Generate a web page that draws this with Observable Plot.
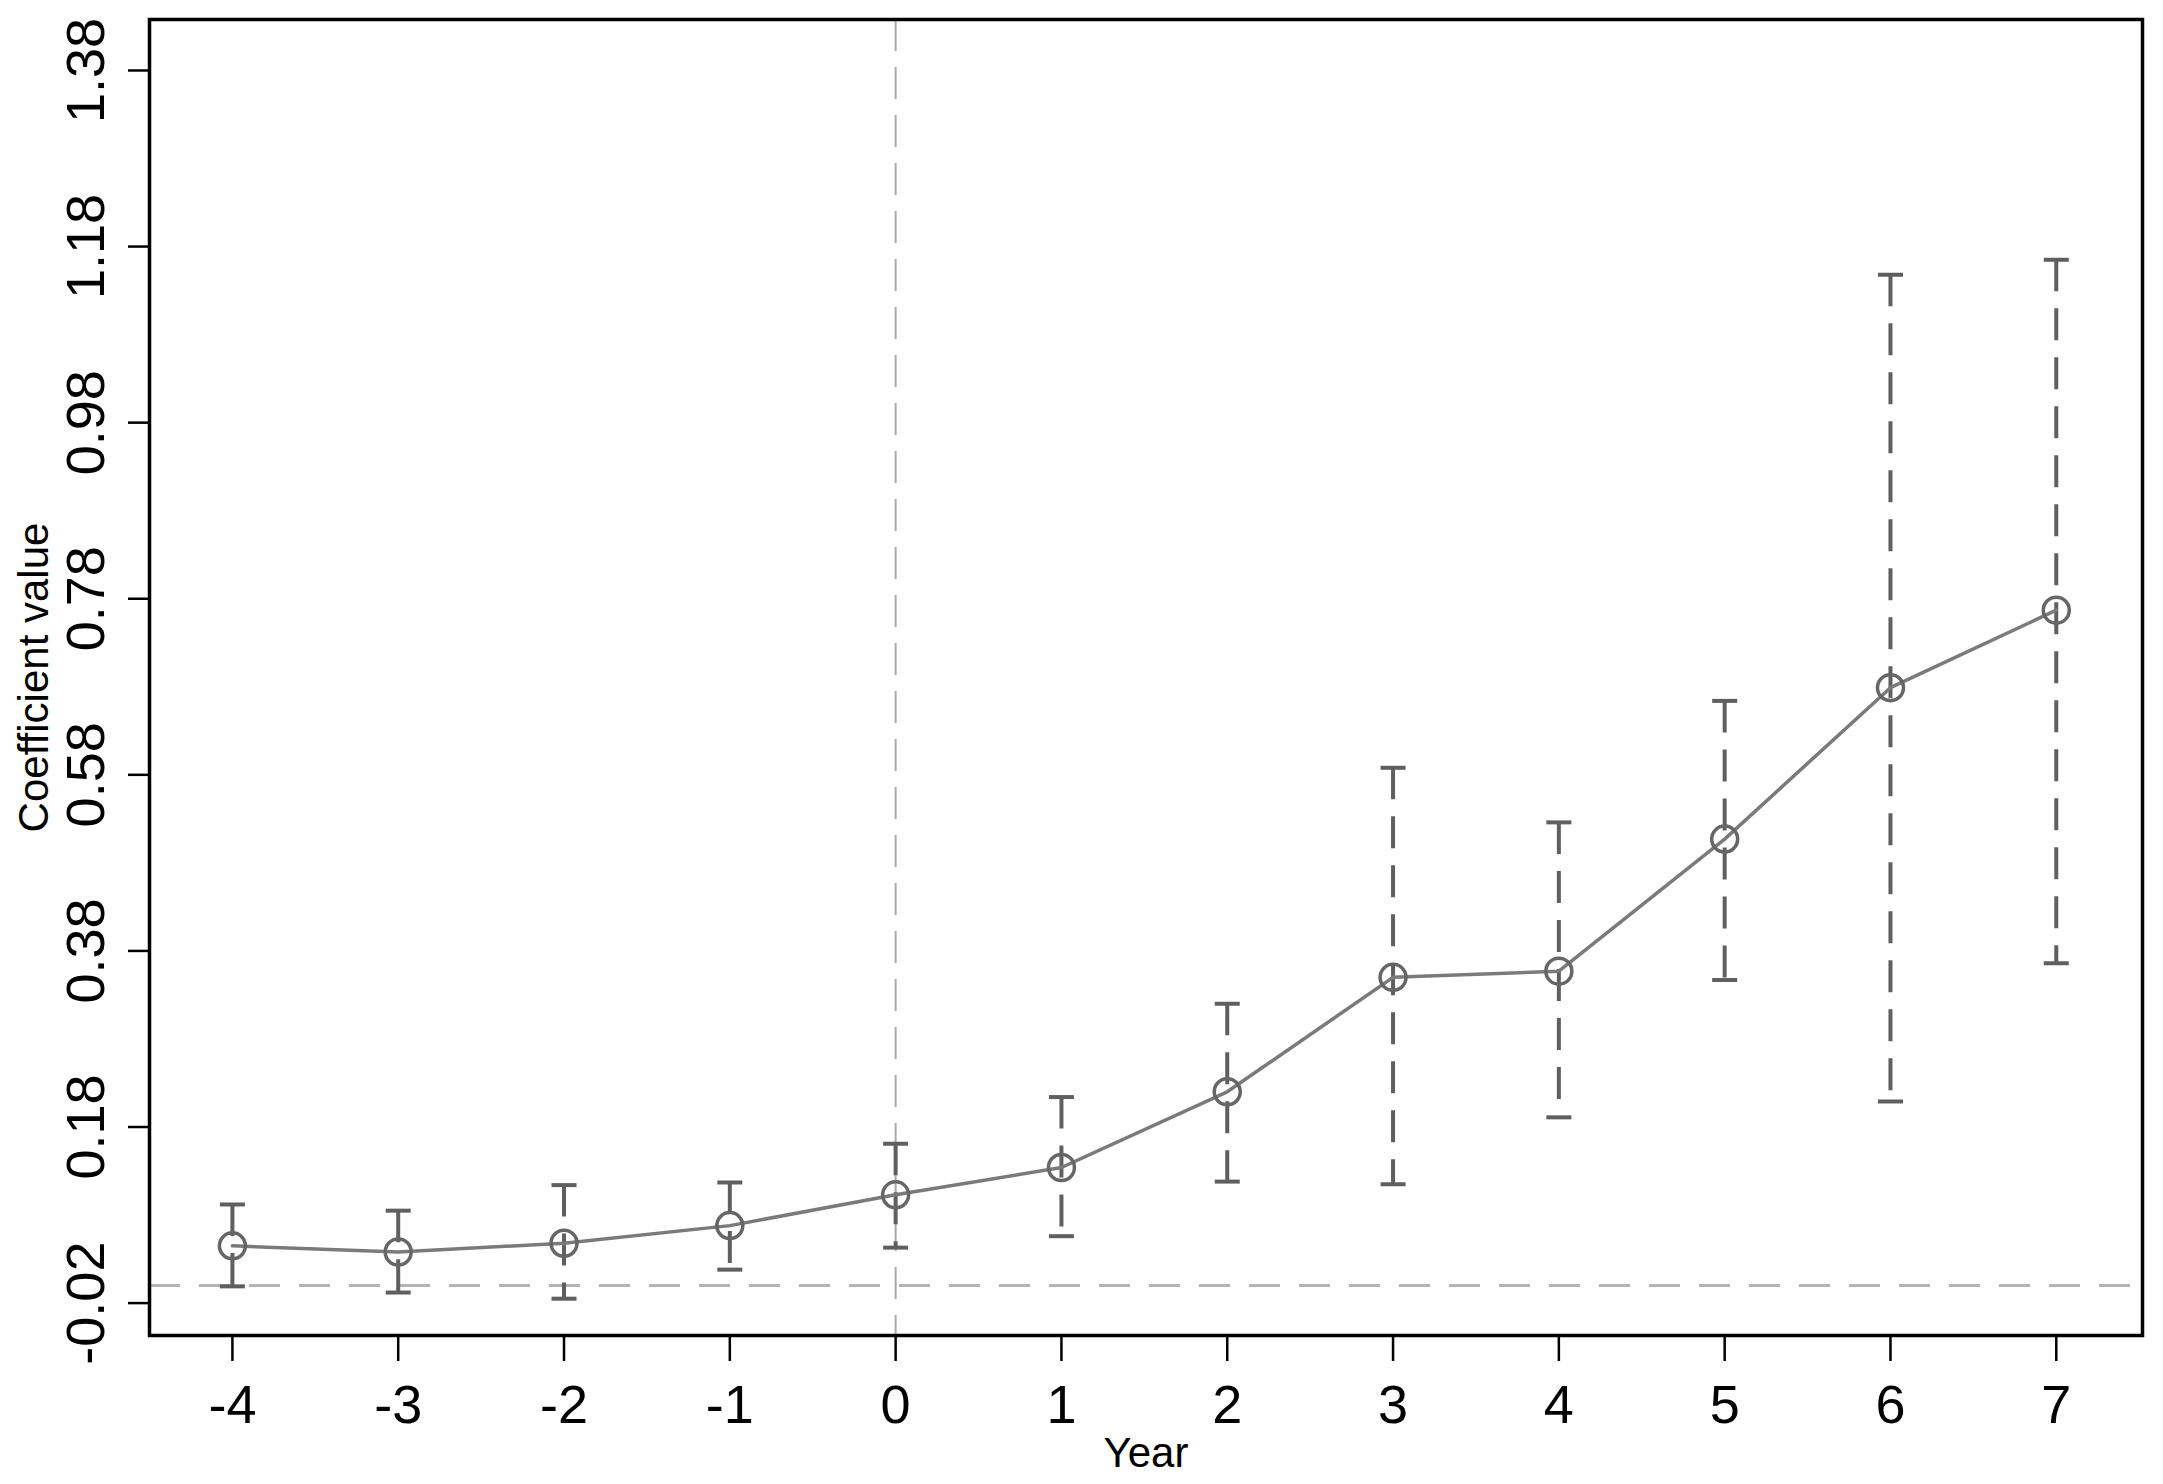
<!DOCTYPE html>
<html>
<head>
<meta charset="utf-8">
<script src="https://cdn.jsdelivr.net/npm/d3@7"></script>
<script src="https://cdn.jsdelivr.net/npm/@observablehq/plot@0.6"></script>
<style>
  html, body { margin: 0; padding: 0; background: #fff; }
  #chart svg { display: block; }
</style>
</head>
<body>
<div id="chart"></div>
<script>
// ---- data ----
const years  = [-4, -3, -2, -1, 0, 1, 2, 3, 4, 5, 6, 7];
const coef   = [0.045, 0.038, 0.048, 0.068, 0.103, 0.134, 0.220, 0.350, 0.357, 0.507, 0.679, 0.767];
const ciLow  = [-0.001, -0.008, -0.015, 0.018, 0.043, 0.056, 0.118, 0.115, 0.191, 0.347, 0.209, 0.366];
const ciHigh = [0.092, 0.085, 0.114, 0.117, 0.161, 0.214, 0.320, 0.588, 0.526, 0.664, 1.148, 1.165];

const yTicks      = [-0.02, 0.18, 0.38, 0.58, 0.78, 0.98, 1.18, 1.38];
const yTickLabels = ["-0.02", "0.18", "0.38", "0.58", "0.78", "0.98", "1.18", "1.38"];
const xTicks      = [-4, -3, -2, -1, 0, 1, 2, 3, 4, 5, 6, 7];
const xTickLabels = ["-4", "-3", "-2", "-1", "0", "1", "2", "3", "4", "5", "6", "7"];

const xLabel = "Year";
const yLabel = "Coefficient value";

const data = years.map((yr, i) => ({year: yr, b: coef[i], lo: ciLow[i], hi: ciHigh[i]}));

// horizontal cap symbol (width = 2r)
const capSymbol = {
  draw(context, size) {
    const r = Math.sqrt(size / Math.PI);
    context.moveTo(-r, 0);
    context.lineTo(r, 0);
  }
};

const chart = Plot.plot({
  width: 2163,
  height: 1484,
  marginLeft: 149,
  marginRight: 21,
  marginTop: 19,
  marginBottom: 149,
  style: {fontFamily: "'Liberation Sans', Arial, sans-serif", background: "white", color: "black"},
  x: {domain: [-4.5, 7.52]},
  y: {domain: [-0.0568, 1.4379]},
  marks: [
    // reference lines
    Plot.ruleY([0], {stroke: "#b3b3b3", strokeWidth: 3, strokeDasharray: "31,19"}),
    Plot.ruleX([0], {stroke: "#a8a8a8", strokeWidth: 2, strokeDasharray: "32,16"}),
    // confidence intervals
    Plot.ruleX(data, {x: "year", y1: "hi", y2: "lo", stroke: "#5f5f5f", strokeWidth: 4, strokeDasharray: "32,17"}),
    Plot.dot(data, {x: "year", y: "hi", symbol: capSymbol, r: 12.5, stroke: "#5f5f5f", strokeWidth: 4}),
    Plot.dot(data, {x: "year", y: "lo", symbol: capSymbol, r: 12.5, stroke: "#5f5f5f", strokeWidth: 4}),
    // coefficient line and markers
    Plot.line(data, {x: "year", y: "b", stroke: "#7a7a7a", strokeWidth: 3.5}),
    Plot.dot(data, {x: "year", y: "b", r: 13, stroke: "#666666", strokeWidth: 3.5, fill: "none"}),
    // axes
    Plot.axisX({
      ticks: xTicks,
      tickFormat: (d) => xTickLabels[xTicks.indexOf(d)],
      tickSize: 26,
      tickPadding: 23,
      strokeWidth: 2.5,
      fontSize: 54,
      label: xLabel,
      labelArrow: "none",
      labelAnchor: "center",
      labelOffset: 131
    }),
    Plot.axisY({
      ticks: yTicks,
      tickFormat: (d) => yTickLabels[yTicks.indexOf(d)],
      tickRotate: -90,
      tickSize: 21,
      tickPadding: 25,
      strokeWidth: 2.5,
      fontSize: 54,
      label: yLabel,
      labelArrow: "none",
      labelAnchor: "center",
      labelOffset: 131
    }),
    Plot.frame({stroke: "black", strokeWidth: 3.5})
  ]
});

document.getElementById("chart").appendChild(chart);
</script>
<style>
  g[aria-label="x-axis label"], g[aria-label="y-axis label"] { font-size: 42px; }
</style>
</body>
</html>
